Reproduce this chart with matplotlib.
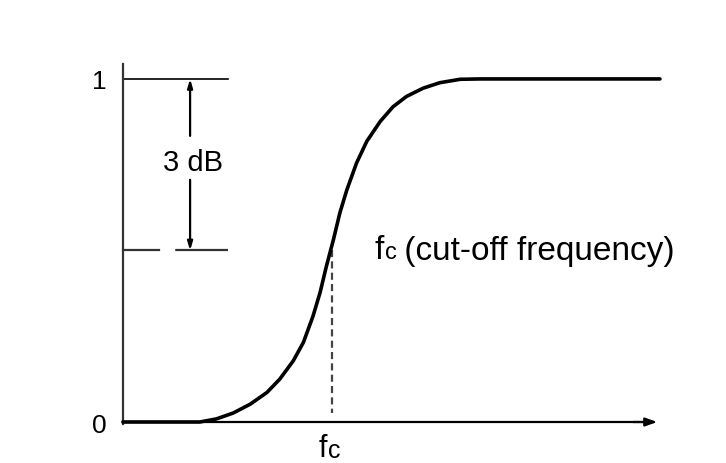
import matplotlib.pyplot as plt

plt.rcParams['font.family'] = ['Liberation Sans', 'DejaVu Sans']

# frequency response (arbitrary frequency units)
freq = [0, 1.43, 1.74, 2.05, 2.37, 2.68, 2.92, 3.17, 3.36, 3.54, 3.67, 3.79,
        3.92, 4.04, 4.17, 4.35, 4.54, 4.79, 5.03, 5.28, 5.59, 5.90, 6.28, 6.65, 10]
gain = [0, 0.0, 0.009, 0.026, 0.052, 0.086, 0.125, 0.178, 0.232, 0.309, 0.377, 0.455,
        0.532, 0.610, 0.677, 0.755, 0.818, 0.876, 0.919, 0.949, 0.973, 0.989, 0.999, 1.0, 1.0]
fc = 3.9
half_level = 0.5
ytick_vals = [0, 1]
ytick_labels = ['0', '1']

fig = plt.figure(figsize=(7.26, 4.64), dpi=100)
ax = fig.add_axes([0, 0, 1, 1])
ax.set_xlim(-2.29, 11.23)
ax.set_ylim(-0.1195, 1.233)

# axes
ax.spines[['top', 'right']].set_visible(False)
ax.spines['left'].set_position(('data', 0))
ax.spines['bottom'].set_position(('data', 0))
ax.spines['left'].set_bounds(-0.006, 1.044)
ax.spines['left'].set_linewidth(1.6)
ax.spines['left'].set_color('#333333')
ax.spines['bottom'].set_bounds(0, 9.7)
ax.spines['bottom'].set_linewidth(1.6)
ax.annotate('', xy=(9.95, 0), xytext=(9.5, 0),
            arrowprops=dict(arrowstyle='-|>,head_length=0.7,head_width=0.25',
                            color='black', lw=1.6, shrinkA=0, shrinkB=0))
ax.set_xticks([])
ax.set_yticks(ytick_vals)
ax.set_yticklabels(ytick_labels, fontsize=19)
ax.tick_params(axis='y', length=0, pad=12)

# response curve
ax.plot(freq, gain, color='black', lw=2.6, solid_capstyle='round',
        solid_joinstyle='round', zorder=3)

# reference lines
ax.plot([0, 1.96], [1, 1], color='black', lw=1.2)
ax.plot([0, 1.96], [half_level, half_level], color='#333333', lw=1.6,
        dashes=(16.7, 6.8, 40, 10))
ax.plot([fc, fc], [half_level, 0.025], color='#444444', lw=1.6, dashes=(3.2, 1.9))

# 3 dB arrows
arrow = dict(arrowstyle='-|>,head_length=0.5,head_width=0.15', color='black',
             lw=1.6, shrinkA=0, shrinkB=0)
ax.annotate('', xy=(1.25, 1.0), xytext=(1.25, 0.834), arrowprops=arrow)
ax.annotate('', xy=(1.25, half_level), xytext=(1.25, 0.706), arrowprops=arrow)
ax.text(1.30, 0.758, '3 dB', fontsize=21, ha='center', va='center')

# cut-off labels
t1 = ax.text(4.69, 0.504, 'f', fontsize=24, ha='left', va='center')
t2 = ax.annotate('c', xy=(1, 0), xycoords=t1, fontsize=17, ha='left', va='bottom',
                 xytext=(0.5, 1), textcoords='offset points')
ax.annotate(' (cut-off frequency)', xy=(1, 0), xycoords=t2, fontsize=24,
            ha='left', va='bottom', xytext=(-1, -2), textcoords='offset points')

b1 = ax.text(3.72, -0.1195, 'f', fontsize=22, ha='center', va='bottom')
ax.annotate('c', xy=(1, 0), xycoords=b1, fontsize=18, ha='left', va='bottom',
            xytext=(1, 1), textcoords='offset points')

fig.savefig('out.png', dpi=100, facecolor='white')
